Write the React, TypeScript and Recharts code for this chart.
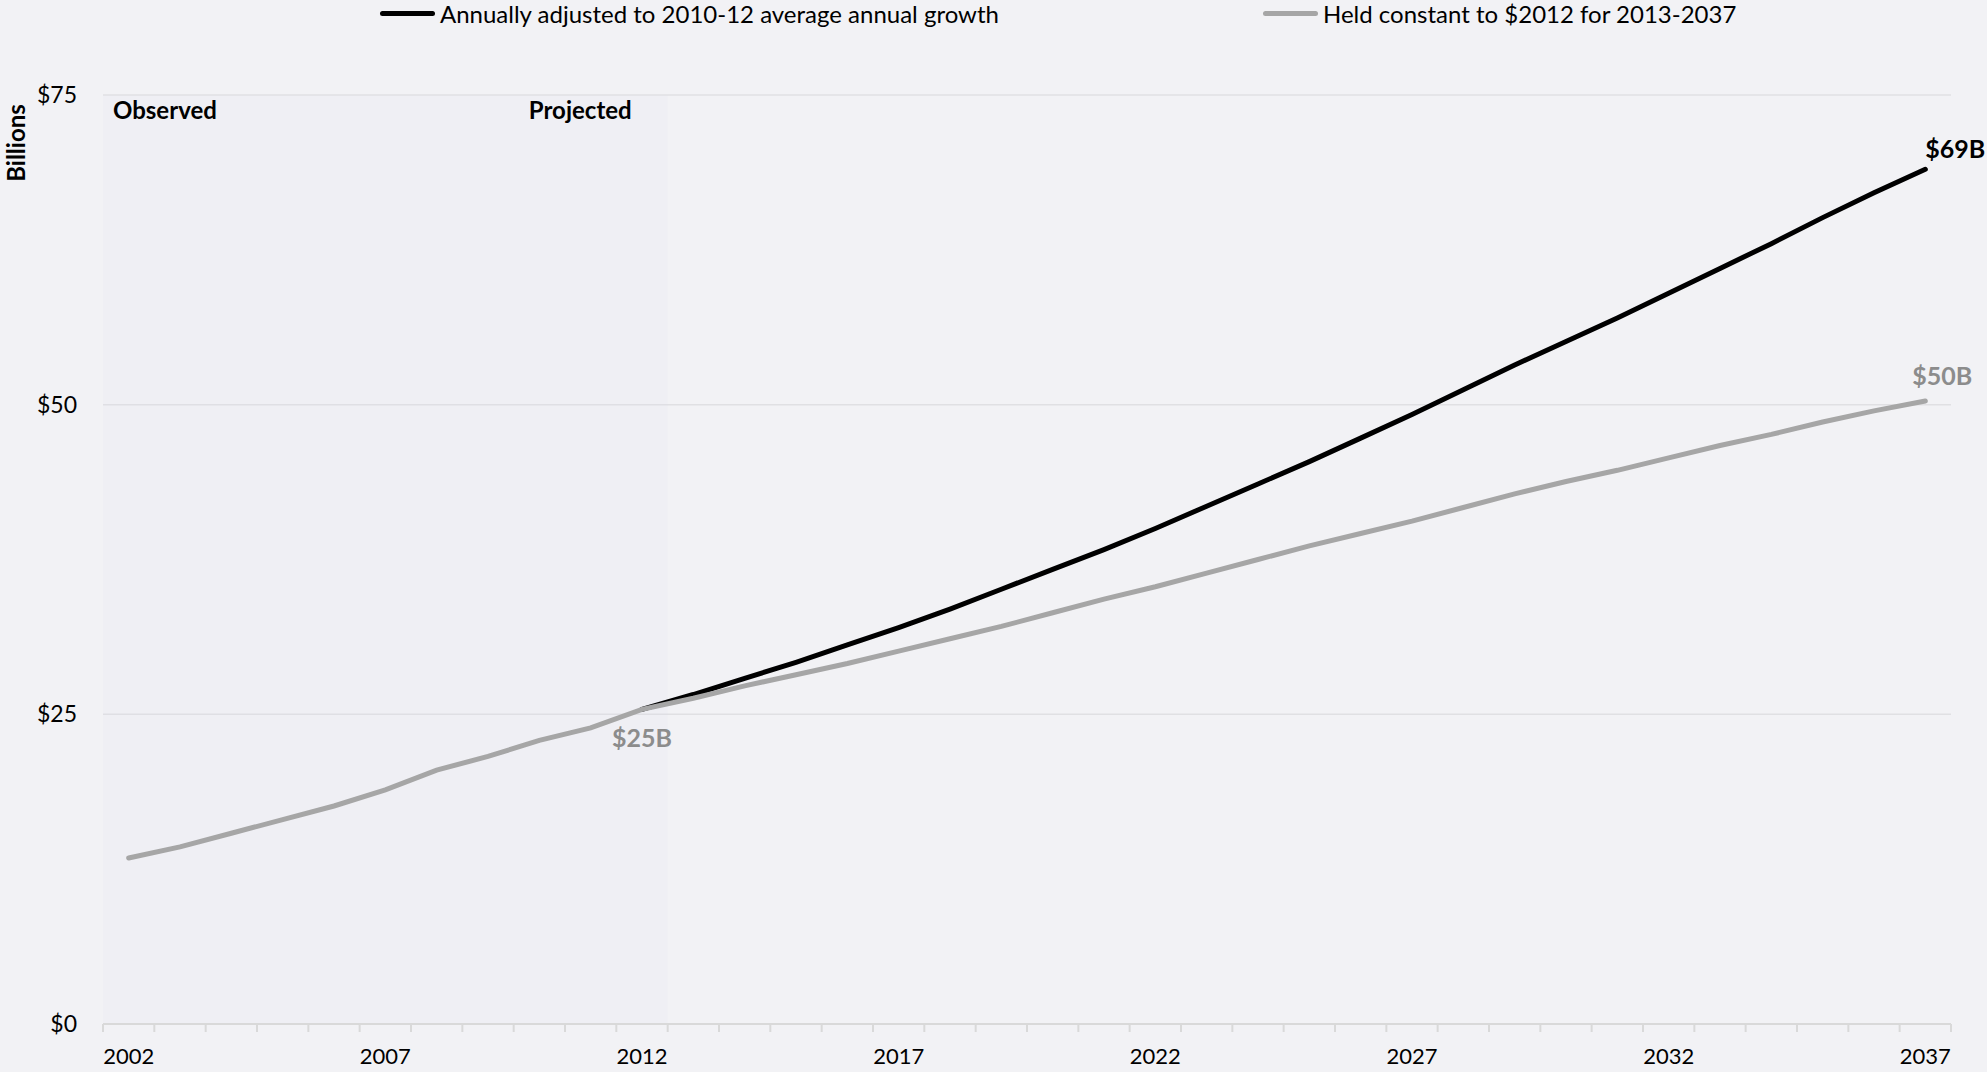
import { LineChart, Line, XAxis, YAxis, CartesianGrid, ReferenceArea, Legend } from "recharts";

const years = [
  "2002", "2003", "2004", "2005", "2006", "2007", "2008", "2009", "2010", "2011",
  "2012", "2013", "2014", "2015", "2016", "2017", "2018", "2019", "2020", "2021",
  "2022", "2023", "2024", "2025", "2026", "2027", "2028", "2029", "2030", "2031",
  "2032", "2033", "2034", "2035", "2036", "2037",
];

// $ billions
const annuallyAdjusted = [
  null, null, null, null, null, null, null, null, null, null,
  25.4, 26.6, 27.9, 29.2, 30.6, 32.0, 33.5, 35.1, 36.7, 38.3,
  40.0, 41.8, 43.6, 45.4, 47.3, 49.2, 51.2, 53.2, 55.1, 57.0,
  59.0, 61.0, 63.0, 65.1, 67.1, 69.0,
];

const heldConstant = [
  13.4, 14.3, 15.4, 16.5, 17.6, 18.9, 20.5, 21.6, 22.9, 23.9,
  25.4, 26.3, 27.3, 28.2, 29.1, 30.1, 31.1, 32.1, 33.2, 34.3,
  35.3, 36.4, 37.5, 38.6, 39.6, 40.6, 41.7, 42.8, 43.8, 44.7,
  45.7, 46.7, 47.6, 48.6, 49.5, 50.3,
];

const yTicks = [0, 25, 50, 75];

const series = [
  { key: "growth", name: "Annually adjusted to 2010-12 average annual growth", color: "#000000" },
  { key: "constant", name: "Held constant to $2012 for 2013-2037", color: "#A6A6A6" },
];

const data = years.map((year, i) => ({
  year,
  growth: annuallyAdjusted[i],
  constant: heldConstant[i],
}));

const W = 1987;
const H = 1072;
const LEFT = 103;
const RIGHT = 36;
const BAND = (W - LEFT - RIGHT) / years.length;
const FONT = 'Lato, "Open Sans", sans-serif';

function YearTick(props: any) {
  const { x, y, payload, index } = props;
  const half = payload && payload.offset ? payload.offset : BAND / 2;
  const showLabel = Number(payload.value) % 5 === 2;
  return (
    <g>
      <line x1={x - half} x2={x - half} y1={y} y2={y + 8} stroke="#D9D9D9" strokeWidth={2} />
      {index === years.length - 1 && (
        <line x1={x + half} x2={x + half} y1={y} y2={y + 8} stroke="#D9D9D9" strokeWidth={2} />
      )}
      {showLabel && (
        <text x={x} y={y + 31} textAnchor="middle" dominantBaseline="central" fontSize={22} fill="#000">
          {payload.value}
        </text>
      )}
    </g>
  );
}

function renderLegend() {
  return (
    <div style={{ display: "flex", height: 26, alignItems: "center", paddingLeft: 380 }}>
      {series.map((s) => (
        <div key={s.key} style={{ width: 883, flexShrink: 0, display: "flex", alignItems: "center" }}>
          <span style={{ width: 55, height: 5, borderRadius: 3, background: s.color, marginRight: 5, flexShrink: 0 }} />
          <span style={{ fontSize: 24, color: "#000", whiteSpace: "nowrap" }}>{s.name}</span>
        </div>
      ))}
    </div>
  );
}

function growthLabel(p: any) {
  if (p.index !== years.length - 1) return null;
  return (
    <text x={p.x} y={p.y - 21} dominantBaseline="central" fontSize={25} fontWeight={700} fill="#000">
      {`$${Math.round(p.value)}B`}
    </text>
  );
}

function constantLabel(p: any) {
  if (p.index === years.length - 1) {
    return (
      <text x={p.x - 13} y={p.y - 26} dominantBaseline="central" fontSize={25} fontWeight={700} fill="#8C8C8C">
        {`$${Math.round(p.value)}B`}
      </text>
    );
  }
  if (years[p.index] === "2012") {
    return (
      <text x={p.x} y={p.y + 28} textAnchor="middle" dominantBaseline="central" fontSize={25} fontWeight={700} fill="#8C8C8C">
        {`$${Math.round(p.value)}B`}
      </text>
    );
  }
  return null;
}

function periodLabels(props: any) {
  const vb = props.viewBox;
  return (
    <g>
      <text x={vb.x + 10} y={vb.y + 14} dominantBaseline="central" fontSize={24} fontWeight={700} fill="#000">
        Observed
      </text>
      <text x={vb.x + vb.width - 36} y={vb.y + 14} textAnchor="end" dominantBaseline="central" fontSize={24} fontWeight={700} fill="#000">
        Projected
      </text>
    </g>
  );
}

function unitLabel(props: any) {
  const vb = props.viewBox;
  const cy = vb.y + 48;
  return (
    <text x={15} y={cy} transform={`rotate(-90 15 ${cy})`} textAnchor="middle" dominantBaseline="central" fontSize={24} fontWeight={700} fill="#000">
      Billions
    </text>
  );
}

export default function App() {
  return (
    <div style={{ position: "absolute", left: 0, top: 0, width: W, height: H, background: "#F2F2F5", fontFamily: FONT }}>
      <LineChart width={W} height={H} data={data} margin={{ top: 69, right: RIGHT, bottom: 8, left: 0 }} style={{ fontFamily: FONT }}>
        <CartesianGrid vertical={false} stroke="#E0E0E3" strokeWidth={1.5} />
        <ReferenceArea x1="2002" x2="2012" fill="#DCDCEC" fillOpacity={0.12} stroke="none" label={periodLabels} />
        <XAxis
          dataKey="year"
          scale="band"
          interval={0}
          tickLine={false}
          tickSize={0}
          tickMargin={0}
          height={40}
          axisLine={{ stroke: "#D9D9D9", strokeWidth: 2 }}
          tick={<YearTick />}
        />
        <YAxis
          domain={[0, 75]}
          ticks={yTicks}
          tickFormatter={(v: number) => `$${v}`}
          axisLine={false}
          tickLine={false}
          tickSize={6}
          tickMargin={20}
          width={LEFT}
          tick={{ fontSize: 23, fill: "#000" }}
          label={unitLabel}
        />
        <Legend verticalAlign="top" content={renderLegend} wrapperStyle={{ top: 0, left: 0, width: W, height: 26 }} />
        {series.map((s) => (
          <Line
            key={s.key}
            dataKey={s.key}
            name={s.name}
            type="linear"
            stroke={s.color}
            strokeWidth={5}
            strokeLinecap="round"
            dot={false}
            activeDot={false}
            isAnimationActive={false}
            label={s.key === "growth" ? growthLabel : constantLabel}
          />
        ))}
      </LineChart>
    </div>
  );
}
